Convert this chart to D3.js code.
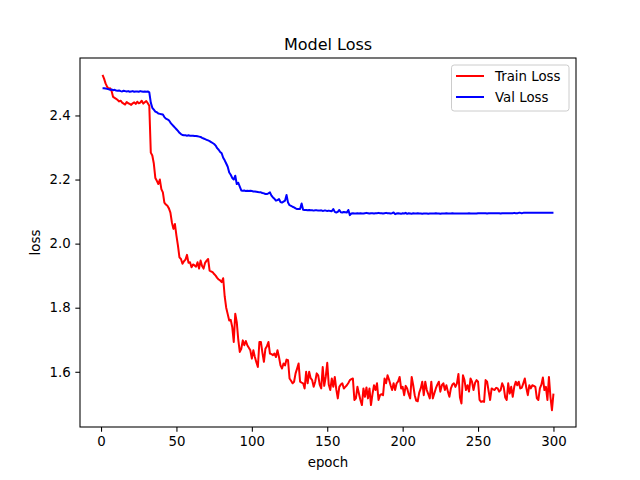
<!DOCTYPE html>
<html>
<head>
<meta charset="utf-8">
<script src="https://cdn.jsdelivr.net/npm/d3@7"></script>
<style>
  html, body { margin: 0; padding: 0; background: #fff; }
  svg { display: block; }
  text { font-family: "DejaVu Sans", sans-serif; }
</style>
</head>
<body>
<svg id="chart" width="640" height="480"></svg>
<script>
const chartTitle = "Model Loss";
const xLabel = "epoch";
const yLabel = "loss";
const seriesNames = ["Train Loss", "Val Loss"];
const xTicks = [0, 50, 100, 150, 200, 250, 300];
const yTicks = [1.6, 1.8, 2.0, 2.2, 2.4];

const trainLoss = [
2.527, 2.515, 2.500, 2.490, 2.483, 2.485, 2.476, 2.458, 2.455, 2.452,
2.448, 2.444, 2.446, 2.440, 2.437, 2.434, 2.442, 2.438, 2.436, 2.433,
2.438, 2.441, 2.436, 2.443, 2.438, 2.440, 2.446, 2.437, 2.441, 2.445,
2.438, 2.430, 2.284, 2.275, 2.250, 2.205, 2.196, 2.186, 2.200, 2.170,
2.160, 2.128, 2.122, 2.118, 2.110, 2.097, 2.066, 2.046, 2.061, 2.025,
1.994, 1.957, 1.952, 1.937, 1.945, 1.950, 1.965, 1.940, 1.942, 1.926,
1.935, 1.932, 1.928, 1.942, 1.922, 1.947, 1.930, 1.922, 1.940, 1.947,
1.952, 1.916, 1.913, 1.911, 1.905, 1.900, 1.893, 1.888, 1.885, 1.880,
1.892, 1.835, 1.800, 1.780, 1.760, 1.762, 1.740, 1.693, 1.781, 1.755,
1.700, 1.662, 1.672, 1.698, 1.683, 1.696, 1.683, 1.675, 1.667, 1.641,
1.667, 1.646, 1.630, 1.615, 1.693, 1.693, 1.660, 1.631, 1.672, 1.680,
1.693, 1.657, 1.655, 1.652, 1.657, 1.646, 1.667, 1.646, 1.620, 1.610,
1.626, 1.620, 1.638, 1.636, 1.579, 1.572, 1.564, 1.569, 1.595, 1.610,
1.626, 1.569, 1.566, 1.564, 1.548, 1.600, 1.564, 1.600, 1.580, 1.574,
1.553, 1.569, 1.595, 1.589, 1.560, 1.548, 1.615, 1.556, 1.584, 1.628,
1.560, 1.543, 1.579, 1.553, 1.584, 1.545, 1.517, 1.553, 1.560, 1.564,
1.548, 1.553, 1.558, 1.565, 1.574, 1.577, 1.579, 1.512, 1.517, 1.553,
1.532, 1.512, 1.496, 1.548, 1.522, 1.551, 1.517, 1.548, 1.496, 1.530,
1.558, 1.543, 1.564, 1.512, 1.527, 1.530, 1.527, 1.579, 1.564, 1.589,
1.575, 1.558, 1.543, 1.564, 1.543, 1.564, 1.570, 1.584, 1.548, 1.553,
1.527, 1.556, 1.548, 1.530, 1.517, 1.584, 1.558, 1.527, 1.510, 1.508,
1.535, 1.548, 1.569, 1.527, 1.569, 1.543, 1.530, 1.517, 1.569, 1.517,
1.532, 1.548, 1.560, 1.569, 1.538, 1.558, 1.564, 1.543, 1.558, 1.538,
1.522, 1.548, 1.560, 1.564, 1.553, 1.564, 1.593, 1.520, 1.501, 1.589,
1.574, 1.543, 1.558, 1.538, 1.579, 1.569, 1.543, 1.565, 1.574, 1.569,
1.512, 1.506, 1.508, 1.506, 1.574, 1.569, 1.540, 1.512, 1.548, 1.545,
1.543, 1.550, 1.548, 1.538, 1.543, 1.564, 1.553, 1.520, 1.512, 1.564,
1.532, 1.553, 1.522, 1.553, 1.569, 1.558, 1.569, 1.548, 1.550, 1.564,
1.579, 1.550, 1.527, 1.558, 1.548, 1.558, 1.556, 1.553, 1.517, 1.512,
1.548, 1.560, 1.582, 1.543, 1.553, 1.512, 1.584, 1.522, 1.480, 1.532
];

const valLoss = [
2.485, 2.485, 2.484, 2.483, 2.482, 2.480, 2.481, 2.479, 2.480, 2.478,
2.477, 2.478, 2.476, 2.475, 2.477, 2.476, 2.475, 2.476, 2.474, 2.475,
2.476, 2.474, 2.475, 2.475, 2.474, 2.476, 2.475, 2.474, 2.475, 2.474,
2.475, 2.472, 2.440, 2.424, 2.418, 2.412, 2.410, 2.406, 2.405, 2.404,
2.403, 2.395, 2.390, 2.388, 2.385, 2.378, 2.372, 2.367, 2.362, 2.357,
2.352, 2.346, 2.342, 2.339, 2.338, 2.338, 2.337, 2.338, 2.337, 2.337,
2.337, 2.336, 2.336, 2.335, 2.334, 2.333, 2.330, 2.328, 2.326, 2.324,
2.322, 2.320, 2.317, 2.314, 2.311, 2.306, 2.298, 2.293, 2.286, 2.282,
2.268, 2.260, 2.250, 2.240, 2.222, 2.215, 2.205, 2.200, 2.212, 2.186,
2.190, 2.178, 2.166, 2.165, 2.166, 2.164, 2.165, 2.164, 2.165, 2.164,
2.163, 2.163, 2.162, 2.161, 2.160, 2.160, 2.158, 2.157, 2.155, 2.155,
2.157, 2.160, 2.150, 2.144, 2.140, 2.134, 2.136, 2.139, 2.130, 2.128,
2.131, 2.134, 2.152, 2.128, 2.120, 2.118, 2.115, 2.113, 2.110, 2.108,
2.108, 2.108, 2.125, 2.106, 2.105, 2.105, 2.104, 2.105, 2.104, 2.104,
2.103, 2.104, 2.104, 2.103, 2.103, 2.104, 2.102, 2.103, 2.103, 2.102,
2.103, 2.102, 2.101, 2.108, 2.099, 2.097, 2.099, 2.105, 2.098, 2.097,
2.099, 2.098, 2.097, 2.105, 2.089, 2.094, 2.095, 2.094, 2.094, 2.095,
2.094, 2.095, 2.094, 2.094, 2.095, 2.096, 2.095, 2.094, 2.095, 2.095,
2.094, 2.095, 2.095, 2.096, 2.095, 2.095, 2.094, 2.095, 2.096, 2.095,
2.095, 2.094, 2.095, 2.097, 2.092, 2.094, 2.095, 2.094, 2.093, 2.095,
2.094, 2.096, 2.093, 2.095, 2.094, 2.093, 2.095, 2.094, 2.094, 2.095,
2.094, 2.094, 2.093, 2.094, 2.094, 2.094, 2.093, 2.094, 2.094, 2.094,
2.094, 2.095, 2.094, 2.094, 2.093, 2.094, 2.094, 2.094, 2.095, 2.094,
2.094, 2.094, 2.095, 2.094, 2.094, 2.094, 2.094, 2.094, 2.094, 2.094,
2.094, 2.094, 2.094, 2.095, 2.094, 2.094, 2.094, 2.094, 2.094, 2.095,
2.095, 2.095, 2.095, 2.095, 2.095, 2.094, 2.095, 2.095, 2.095, 2.095,
2.095, 2.095, 2.095, 2.095, 2.094, 2.095, 2.095, 2.095, 2.095, 2.095,
2.095, 2.095, 2.095, 2.096, 2.095, 2.095, 2.096, 2.096, 2.095, 2.096,
2.096, 2.096, 2.096, 2.096, 2.096, 2.096, 2.096, 2.096, 2.096, 2.096,
2.096, 2.096, 2.096, 2.096, 2.096, 2.096, 2.096, 2.096, 2.096, 2.096
];

const epochs = trainLoss.map((_, i) => i + 1);
const seriesColors = ["#ff0000", "#0000ff"];

const W = 640, H = 480;
const ax = { left: 80, top: 58, width: 496, height: 369 };

const svg = d3.select("#chart");

// matplotlib-like 5% margins
const xMin = d3.min(epochs), xMax = d3.max(epochs);
const xPad = (xMax - xMin) * 0.05;
const allY = trainLoss.concat(valLoss);
const yMin = d3.min(allY), yMax = d3.max(allY);
const yPad = (yMax - yMin) * 0.05;

const x = d3.scaleLinear().domain([xMin - xPad, xMax + xPad]).range([ax.left, ax.left + ax.width]);
const y = d3.scaleLinear().domain([yMin - yPad, yMax + yPad]).range([ax.top + ax.height, ax.top]);

svg.append("rect").attr("width", W).attr("height", H).attr("fill", "#fff");

// clip
svg.append("clipPath").attr("id", "clip")
  .append("rect").attr("x", ax.left).attr("y", ax.top).attr("width", ax.width).attr("height", ax.height);

const line = d3.line().x((d, i) => x(epochs[i])).y(d => y(d));

const series = [trainLoss, valLoss];
series.forEach((s, k) => {
  svg.append("path")
    .datum(s)
    .attr("clip-path", "url(#clip)")
    .attr("fill", "none")
    .attr("stroke", seriesColors[k])
    .attr("stroke-width", 2)
    .attr("stroke-linejoin", "round")
    .attr("stroke-linecap", "butt")
    .attr("d", line);
});

// axes
const tickLen = 4.67;
const xAxis = d3.axisBottom(x).tickValues(xTicks).tickSize(tickLen).tickPadding(4.67).tickFormat(d3.format("d"));
const yAxis = d3.axisLeft(y).tickValues(yTicks).tickSize(tickLen).tickPadding(4.67).tickFormat(d3.format(".1f"));

const gx = svg.append("g").attr("transform", `translate(0,${ax.top + ax.height})`).call(xAxis);
const gy = svg.append("g").attr("transform", `translate(${ax.left},0)`).call(yAxis);
[gx, gy].forEach(g => {
  g.select(".domain").remove();
  g.selectAll(".tick line").attr("stroke", "#000").attr("stroke-width", 1.07);
  g.selectAll(".tick text").attr("fill", "#000").style("font-size", "13.33px").style("font-family", "DejaVu Sans");
});

// frame (spines)
svg.append("rect")
  .attr("x", ax.left).attr("y", ax.top).attr("width", ax.width).attr("height", ax.height)
  .attr("fill", "none").attr("stroke", "#000").attr("stroke-width", 1.07);

// title and labels
svg.append("text").attr("x", ax.left + ax.width / 2).attr("y", ax.top - 8.5)
  .attr("text-anchor", "middle").style("font-size", "16px").text(chartTitle);
svg.append("text").attr("x", ax.left + ax.width / 2).attr("y", 467)
  .attr("text-anchor", "middle").style("font-size", "13.33px").text(xLabel);
svg.append("text").attr("transform", `translate(40,${ax.top + ax.height / 2}) rotate(-90)`)
  .attr("text-anchor", "middle").style("font-size", "13.33px").text(yLabel);

// legend
const lg = svg.append("g");
lg.append("rect").attr("x", 451.5).attr("y", 65).attr("width", 117.5).attr("height", 46)
  .attr("rx", 2.7).attr("ry", 2.7)
  .attr("fill", "#fff").attr("fill-opacity", 0.8)
  .attr("stroke", "#cccccc").attr("stroke-width", 1);
seriesNames.forEach((name, k) => {
  const yy = 76 + k * 21;
  lg.append("line").attr("x1", 456).attr("x2", 484).attr("y1", yy).attr("y2", yy)
    .attr("stroke", seriesColors[k]).attr("stroke-width", 2);
  lg.append("text").attr("x", 495).attr("y", yy + 4.8)
    .style("font-size", "13.33px").text(name);
});
</script>
</body>
</html>
